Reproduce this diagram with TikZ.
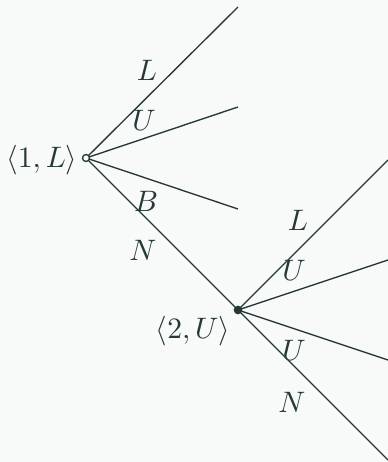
\documentclass[tikz,border=0pt]{standalone}
\usepackage{amsmath,amssymb}
\usepackage{tikz}
\usetikzlibrary{positioning}
\definecolor{ink}{HTML}{263838}
\definecolor{paper}{HTML}{F8F9F9}

\begin{document}
\begin{tikzpicture}[x=0.37pt,y=-0.37pt,
		branch/.style={draw=ink,line width=0.5pt},
		every node/.style={text=ink,font=\fontsize{11}{13}\selectfont},
		opendot/.style={circle,draw=ink,fill=paper,line width=0.5pt,minimum size=2.6pt,inner sep=0pt},
		fulldot/.style={circle,fill=ink,minimum size=3.2pt,inner sep=0pt}]
		\fill[paper] (0,0) rectangle (388,462);
		\useasboundingbox (0,0) rectangle (388,462);
		
		% first player
		\coordinate (r) at (86,158);
		\coordinate (s) at (238,310);
		\coordinate (a1) at (238,7);
		\coordinate (a2) at (238,107);
		\coordinate (a3) at (238,209);
		\draw[branch] (r) -- (a1);
		\draw[branch] (r) -- (a2);
		\draw[branch] (r) -- (a3);
		\draw[branch] (r) -- (s);
		\node[opendot] (root) at (r) {};
		\node[inner sep=0pt,anchor=east] at (78,160) (rl) {$\langle 1,L\rangle$};
		\node at (147,70) (l1) {$L$};
		\node at (144,120) (u1) {$U$};
		\node at (146,201) (b1) {$B$};
		\node at (143,250) (n1) {$N$};
		
		% second player
		\coordinate (b1e) at (388,160);
		\coordinate (b2e) at (388,260);
		\coordinate (b3e) at (388,360);
		\coordinate (b4e) at (388,460);
		\foreach \e in {b1e,b2e,b3e,b4e}
			\draw[branch] (s) -- (\e);
		\node[fulldot] (sec) at (s) {};
		\node at (193,331) (sl) {$\langle 2,U\rangle$};
		\node at (298,220) (l2) {$L$};
		\node at (294,270) (u2) {$U$};
		\node at (294,350) (u3) {$U$};
		\node at (292,402) (n2) {$N$};
	\end{tikzpicture}
\end{document}
